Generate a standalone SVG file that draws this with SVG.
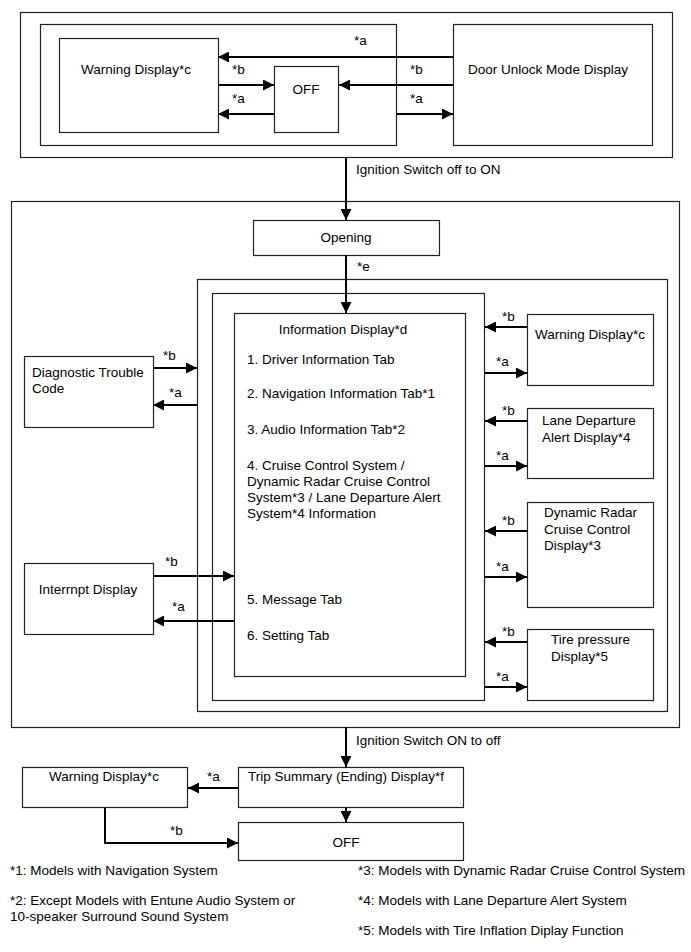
<svg xmlns="http://www.w3.org/2000/svg" width="691" height="952" viewBox="0 0 691 952">
<defs>
<marker id="ah" viewBox="0 0 11 11" refX="11" refY="5.5" markerWidth="11" markerHeight="11" markerUnits="userSpaceOnUse" orient="auto"><path d="M0,0 L11,5.5 L0,11 z" fill="#000"/></marker>
<style>
rect{fill:none;stroke:#222;stroke-width:1.2}
text{font-family:"Liberation Sans",Arial,sans-serif;font-size:13.5px;fill:#000}
.c{text-anchor:middle}
.cn line,.cn path{stroke:#000;stroke-width:2;fill:none}
.ar{marker-end:url(#ah)}
</style>
</defs>
<g id="frames">
<rect x="20.5" y="12.5" width="652" height="145"/>
<rect x="40.5" y="24.5" width="356" height="121"/>
<rect x="11.5" y="201.5" width="668" height="526"/>
<rect x="197.5" y="279.5" width="470" height="432"/>
<rect x="212.5" y="293.5" width="272" height="407"/>
</g>
<g id="warning-top"><rect x="59.5" y="38.5" width="159" height="94"/><text class="c" x="136" y="74">Warning Display*c</text></g>
<g id="off-top"><rect x="274.5" y="66.5" width="64" height="66"/><text class="c" x="306" y="94">OFF</text></g>
<g id="door-unlock"><rect x="453.5" y="24.5" width="199" height="121"/><text class="c" x="548" y="74">Door Unlock Mode Display</text></g>
<g id="opening"><rect x="253.5" y="220.5" width="186" height="35"/><text class="c" x="346" y="242">Opening</text></g>
<g id="info-display"><rect x="234.5" y="313.5" width="231" height="363"/>
<text class="c" x="343" y="334">Information Display*d</text>
<text x="247" y="364">1. Driver Information Tab</text>
<text x="247" y="398">2. Navigation Information Tab*1</text>
<text x="247" y="434">3. Audio Information Tab*2</text>
<text x="247" y="470">4. Cruise Control System /</text>
<text x="247" y="486">Dynamic Radar Cruise Control</text>
<text x="247" y="502">System*3 / Lane Departure Alert</text>
<text x="247" y="518">System*4 Information</text>
<text x="247" y="604">5. Message Tab</text>
<text x="247" y="640">6. Setting Tab</text>
</g>
<g id="dtc"><rect x="24.5" y="356.5" width="129" height="71"/><text x="32" y="377">Diagnostic Trouble</text><text x="32" y="393">Code</text></g>
<g id="interrupt"><rect x="24.5" y="563.5" width="129" height="71"/><text class="c" x="88" y="594">Interrnpt Display</text></g>
<g id="warning-right"><rect x="527.5" y="314.5" width="126" height="71"/><text class="c" x="590" y="339">Warning Display*c</text></g>
<g id="lane-departure"><rect x="527.5" y="408.5" width="126" height="70"/><text x="542" y="425">Lane Departure</text><text x="542" y="442">Alert Display*4</text></g>
<g id="dynamic-radar"><rect x="527.5" y="502.5" width="126" height="105"/><text x="544" y="517">Dynamic Radar</text><text x="544" y="534">Cruise Control</text><text x="544" y="550">Display*3</text></g>
<g id="tire-pressure"><rect x="527.5" y="629.5" width="126" height="71"/><text x="551" y="644">Tire pressure</text><text x="551" y="661">Display*5</text></g>
<g id="warning-bottom"><rect x="22.5" y="767.5" width="165" height="40"/><text class="c" x="104" y="781">Warning Display*c</text></g>
<g id="trip-summary"><rect x="238.5" y="767.5" width="225" height="40"/><text class="c" x="346" y="781">Trip Summary (Ending) Display*f</text></g>
<g id="off-bottom"><rect x="238.5" y="822.5" width="225" height="38"/><text class="c" x="346" y="847">OFF</text></g>
<g id="connectors" class="cn">
<line class="ar" x1="453" y1="57" x2="218" y2="57"/>
<line class="ar" x1="218" y1="85" x2="274" y2="85"/>
<line class="ar" x1="274" y1="114" x2="218" y2="114"/>
<line class="ar" x1="453" y1="85" x2="339" y2="85"/>
<line class="ar" x1="396" y1="114" x2="453" y2="114"/>
<line class="ar" x1="346" y1="157" x2="346" y2="220"/>
<line class="ar" x1="346" y1="255" x2="346" y2="313"/>
<line class="ar" x1="153" y1="368" x2="197" y2="368"/>
<line class="ar" x1="197" y1="405" x2="153" y2="405"/>
<line class="ar" x1="153" y1="576" x2="234" y2="576"/>
<line class="ar" x1="234" y1="621" x2="153" y2="621"/>
<line class="ar" x1="527" y1="327" x2="485" y2="327"/>
<line class="ar" x1="484" y1="373" x2="527" y2="373"/>
<line class="ar" x1="527" y1="421" x2="485" y2="421"/>
<line class="ar" x1="484" y1="466" x2="527" y2="466"/>
<line class="ar" x1="527" y1="531" x2="485" y2="531"/>
<line class="ar" x1="484" y1="577" x2="527" y2="577"/>
<line class="ar" x1="527" y1="642" x2="485" y2="642"/>
<line class="ar" x1="484" y1="687" x2="527" y2="687"/>
<line class="ar" x1="346" y1="727" x2="346" y2="767"/>
<line class="ar" x1="238" y1="788" x2="188" y2="788"/>
<line class="ar" x1="346" y1="808" x2="346" y2="822"/>
<path class="ar" d="M105,808 V843 H238"/>
</g>
<g id="labels">
<text x="354" y="45">*a</text>
<text x="232" y="74">*b</text>
<text x="232" y="103">*a</text>
<text x="410" y="74">*b</text>
<text x="410" y="103">*a</text>
<text x="356" y="174">Ignition Switch off to ON</text>
<text x="357" y="271">*e</text>
<text x="163" y="360">*b</text>
<text x="169" y="397">*a</text>
<text x="165" y="566">*b</text>
<text x="172" y="611">*a</text>
<text x="502" y="321">*b</text>
<text x="496" y="366">*a</text>
<text x="502" y="415">*b</text>
<text x="496" y="460">*a</text>
<text x="502" y="525">*b</text>
<text x="496" y="571">*a</text>
<text x="502" y="636">*b</text>
<text x="496" y="681">*a</text>
<text x="356" y="745">Ignition Switch ON to off</text>
<text x="207" y="781">*a</text>
<text x="170" y="835">*b</text>
</g>
<g id="footnotes">
<text x="10" y="875">*1: Models with Navigation System</text>
<text x="10" y="905">*2: Except Models with Entune Audio System or</text>
<text x="10" y="921">10-speaker Surround Sound System</text>
<text x="358" y="875">*3: Models with Dynamic Radar Cruise Control System</text>
<text x="358" y="905">*4: Models with Lane Departure Alert System</text>
<text x="358" y="935">*5: Models with Tire Inflation Diplay Function</text>
</g>
</svg>
